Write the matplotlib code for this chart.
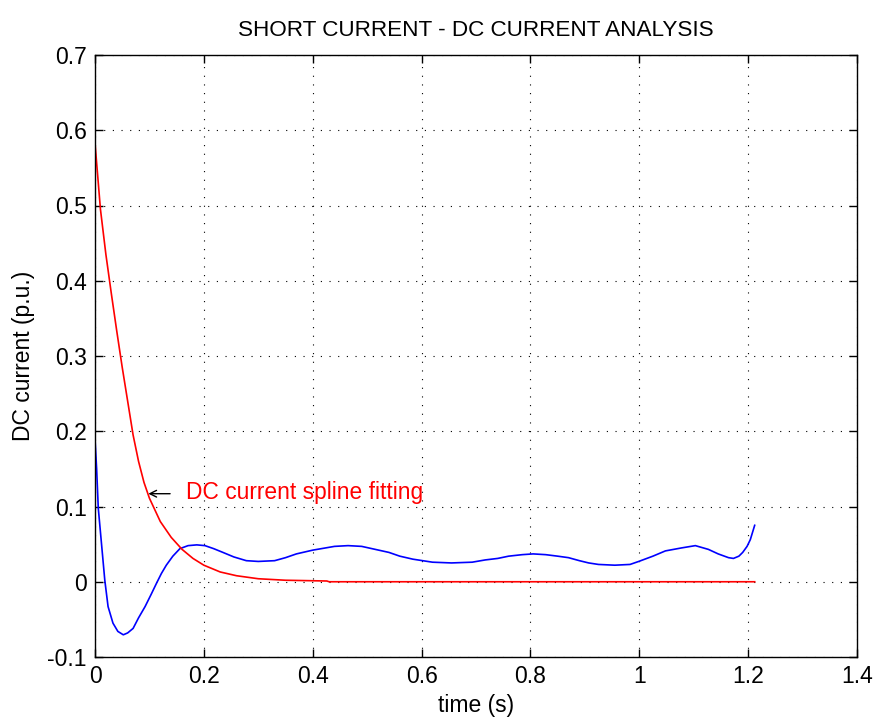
import matplotlib
matplotlib.use("Agg")
import matplotlib.pyplot as plt
from matplotlib import font_manager

# Fitted DC component (red)
t_fit = [0.0, 0.01, 0.02, 0.03, 0.04, 0.05, 0.06, 0.07, 0.08, 0.09, 0.10,
         0.12, 0.14, 0.16, 0.18, 0.20, 0.23, 0.26, 0.30, 0.35, 0.426, 0.43, 1.212]
dc_fit = [0.583, 0.495, 0.435, 0.383, 0.333, 0.285, 0.240, 0.195, 0.160, 0.132, 0.111,
          0.080, 0.059, 0.043, 0.031, 0.022, 0.013, 0.008, 0.004, 0.002, 0.001, 0.0, 0.0]

# Measured DC current (blue)
t_dc = [0.0, 0.003, 0.006, 0.012, 0.018, 0.024, 0.033, 0.042, 0.052, 0.060, 0.070,
        0.080, 0.092, 0.103, 0.113, 0.122, 0.131, 0.143, 0.156, 0.171, 0.187, 0.202,
        0.218, 0.235, 0.255, 0.278, 0.30, 0.33, 0.35, 0.37, 0.40, 0.44, 0.465, 0.49,
        0.515, 0.54, 0.56, 0.584, 0.62, 0.655, 0.693, 0.717, 0.74, 0.76, 0.785, 0.805,
        0.828, 0.85, 0.87, 0.89, 0.907, 0.925, 0.955, 0.983, 0.999, 1.025, 1.048,
        1.078, 1.103, 1.127, 1.145, 1.164, 1.173, 1.183, 1.19, 1.198, 1.204, 1.212]
dc_meas = [0.19, 0.15, 0.098, 0.05, 0.002, -0.033, -0.055, -0.066, -0.0705, -0.068, -0.062,
           -0.048, -0.033, -0.017, -0.002, 0.011, 0.022, 0.034, 0.044, 0.048, 0.049, 0.048,
           0.044, 0.039, 0.033, 0.028, 0.027, 0.028, 0.032, 0.037, 0.042, 0.047, 0.048, 0.047,
           0.043, 0.039, 0.034, 0.030, 0.026, 0.025, 0.026, 0.029, 0.031, 0.034, 0.036, 0.037,
           0.036, 0.034, 0.032, 0.028, 0.025, 0.023, 0.022, 0.023, 0.027, 0.034, 0.041,
           0.045, 0.048, 0.043, 0.037, 0.032, 0.031, 0.034, 0.039, 0.047, 0.056, 0.075]

x_ticks = [0, 0.2, 0.4, 0.6, 0.8, 1.0, 1.2, 1.4]
x_tick_labels = ["0", "0.2", "0.4", "0.6", "0.8", "1", "1.2", "1.4"]
y_ticks = [-0.1, 0, 0.1, 0.2, 0.3, 0.4, 0.5, 0.6, 0.7]
y_tick_labels = ["-0.1", "0", "0.1", "0.2", "0.3", "0.4", "0.5", "0.6", "0.7"]

installed = {f.name for f in font_manager.fontManager.ttflist}
family = "Liberation Sans Narrow" if "Liberation Sans Narrow" in installed else "Liberation Sans"
plt.rcParams["font.family"] = [family, "DejaVu Sans"]

fig = plt.figure(figsize=(8.77, 7.2), dpi=100)
ax = fig.add_axes([95 / 877, 1 - 657 / 720, (857 - 95) / 877, (657 - 55) / 720])

ax.plot(t_dc, dc_meas, color="#0000ff", lw=1.2)
ax.plot(t_fit, dc_fit, color="#ff0000", lw=1.2)

ax.set_xlim(0, 1.4)
ax.set_ylim(-0.1, 0.7)
ax.set_xticks(x_ticks)
ax.set_xticklabels(x_tick_labels)
ax.set_yticks(y_ticks)
ax.set_yticklabels(y_tick_labels)
ax.tick_params(direction="in", length=6, width=1, top=True, right=True,
               labelsize=16.5, pad=6, colors="black")
ax.grid(True, color="black", linestyle=(0, (1, 6.8)), linewidth=0.8)
for s in ax.spines.values():
    s.set_linewidth(1.0)

ax.set_title("SHORT CURRENT - DC CURRENT ANALYSIS", fontsize=16.2, pad=14)
ax.set_xlabel("time (s)", fontsize=16.5, labelpad=4)
ax.set_ylabel("DC current (p.u.)", fontsize=16.5, labelpad=9)

ax.annotate("", xy=(0.098, 0.117), xytext=(0.138, 0.117),
            arrowprops=dict(arrowstyle="->", color="black", lw=1.0,
                            shrinkA=0, shrinkB=0, mutation_scale=12))
ax.text(0.168, 0.119, "DC current spline fitting", color="#ff0000",
        fontsize=16.4, va="center", ha="left")

fig.savefig("out.png", dpi=100, facecolor="white")
